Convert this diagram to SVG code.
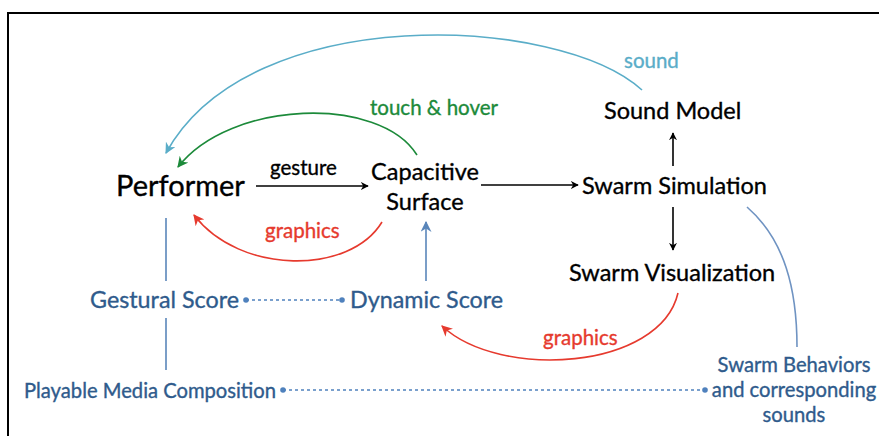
<svg xmlns="http://www.w3.org/2000/svg" width="879" height="436" viewBox="0 0 879 436">
<style>
text{font-family:Lato,"Open Sans","Liberation Sans",sans-serif;stroke-width:0.35}
.blk{fill:#000;stroke:#000}
.main{font-size:29px}
.mid{font-size:23.5px}
.lbl{font-size:20.5px}
.score{fill:#2f5b8c;stroke:#2f5b8c;font-size:23.3px}
.score2{fill:#2f5b8c;stroke:#2f5b8c;font-size:20.2px}
.c{fill:none;stroke-width:1.6}
.dot{fill:#4f81bd}
</style>
<defs>
<marker id="ak" viewBox="0 0 10 10" refX="9" refY="5" markerWidth="8" markerHeight="8" orient="auto" markerUnits="userSpaceOnUse"><path d="M0,0 L10,5 L0,10 L3,5 z" fill="#000"/></marker>
<marker id="ab" viewBox="0 0 10 10" refX="9" refY="5" markerWidth="11" markerHeight="11" orient="auto" markerUnits="userSpaceOnUse"><path d="M0,0 L10,5 L0,10 L3,5 z" fill="#5aadc8"/></marker>
<marker id="ag" viewBox="0 0 10 10" refX="9" refY="5" markerWidth="11" markerHeight="11" orient="auto" markerUnits="userSpaceOnUse"><path d="M0,0 L10,5 L0,10 L3,5 z" fill="#1c8a3a"/></marker>
<marker id="ar" viewBox="0 0 10 10" refX="9" refY="5" markerWidth="11" markerHeight="11" orient="auto" markerUnits="userSpaceOnUse"><path d="M0,0 L10,5 L0,10 L3,5 z" fill="#e63a2e"/></marker>
<marker id="ad" viewBox="0 0 10 10" refX="9" refY="5" markerWidth="11" markerHeight="11" orient="auto" markerUnits="userSpaceOnUse"><path d="M0,0 L10,5 L0,10 L3,5 z" fill="#5a86ba"/></marker>
</defs>
<rect x="8" y="13" width="900" height="440" fill="#fff" stroke="#000" stroke-width="2"/>
<g id="connectors">
<path class="c" d="M642,90 C560,15 250,0 166,153" stroke="#5aadc8" marker-end="url(#ab)"/>
<path class="c" d="M417,155 C380,95 230,100 178,167" stroke="#1c8a3a" marker-end="url(#ag)"/>
<path class="c" d="M382,222 C350,275 240,275 194,215" stroke="#e63a2e" marker-end="url(#ar)"/>
<path class="c" d="M678,293 C660,370 500,380 442,326" stroke="#e63a2e" marker-end="url(#ar)"/>
<path class="c" d="M747,207 C785,240 797,290 797,347" stroke="#6f93c2"/>
<line x1="256" y1="186" x2="368" y2="186" stroke="#000" stroke-width="1.6" marker-end="url(#ak)"/>
<line x1="481" y1="185" x2="578" y2="185" stroke="#000" stroke-width="1.6" marker-end="url(#ak)"/>
<line x1="673" y1="166" x2="673" y2="133" stroke="#000" stroke-width="1.6" marker-end="url(#ak)"/>
<line x1="673" y1="207" x2="673" y2="250" stroke="#000" stroke-width="1.6" marker-end="url(#ak)"/>
<line x1="426" y1="281" x2="426" y2="222" stroke="#5a86ba" stroke-width="1.6" marker-end="url(#ad)"/>
<line x1="166" y1="218" x2="166" y2="281" stroke="#5a86ba" stroke-width="1.6"/>
<line x1="166" y1="318" x2="166" y2="370" stroke="#5a86ba" stroke-width="1.6"/>
<line x1="246" y1="300" x2="342" y2="300" stroke="#4f81bd" stroke-width="1.5" stroke-dasharray="3,3"/>
<circle class="dot" cx="246" cy="300" r="2.8"/><circle class="dot" cx="342" cy="300" r="2.8"/>
<line x1="283" y1="390" x2="705" y2="390" stroke="#4f81bd" stroke-width="1.5" stroke-dasharray="3,3"/>
<circle class="dot" cx="283" cy="390" r="2.8"/><circle class="dot" cx="705" cy="390" r="2.8"/>
<text class="lbl" x="270" y="175" fill="#000" stroke="#000">gesture</text>
<text class="lbl" x="624" y="68" fill="#5aadc8" stroke="#5aadc8">sound</text>
<text class="lbl" x="370" y="115" fill="#1c8a3a" stroke="#1c8a3a">touch &amp; hover</text>
<text class="lbl" x="265" y="238" fill="#e63a2e" stroke="#e63a2e">graphics</text>
<text class="lbl" x="543" y="345" fill="#e63a2e" stroke="#e63a2e">graphics</text>
</g>
<g id="performer"><text class="main blk" x="116" y="196">Performer</text></g>
<g id="capacitive-surface"><text class="mid blk" x="425" y="180" text-anchor="middle">Capacitive</text><text class="mid blk" x="425" y="210" text-anchor="middle">Surface</text></g>
<g id="swarm-simulation"><text class="mid blk" x="582" y="194">Swarm Simulation</text></g>
<g id="sound-model"><text class="mid blk" x="604" y="119">Sound Model</text></g>
<g id="swarm-visualization"><text class="mid blk" x="569" y="281">Swarm Visualization</text></g>
<g id="gestural-score"><text class="score" x="90" y="308">Gestural Score</text></g>
<g id="dynamic-score"><text class="score" x="350" y="308">Dynamic Score</text></g>
<g id="playable-media"><text class="score2" x="24" y="398">Playable Media Composition</text></g>
<g id="swarm-behaviors"><text class="score2" x="794" y="372" text-anchor="middle">Swarm Behaviors</text><text class="score2" x="794" y="397" text-anchor="middle">and corresponding</text><text class="score2" x="794" y="422" text-anchor="middle">sounds</text></g>
</svg>
